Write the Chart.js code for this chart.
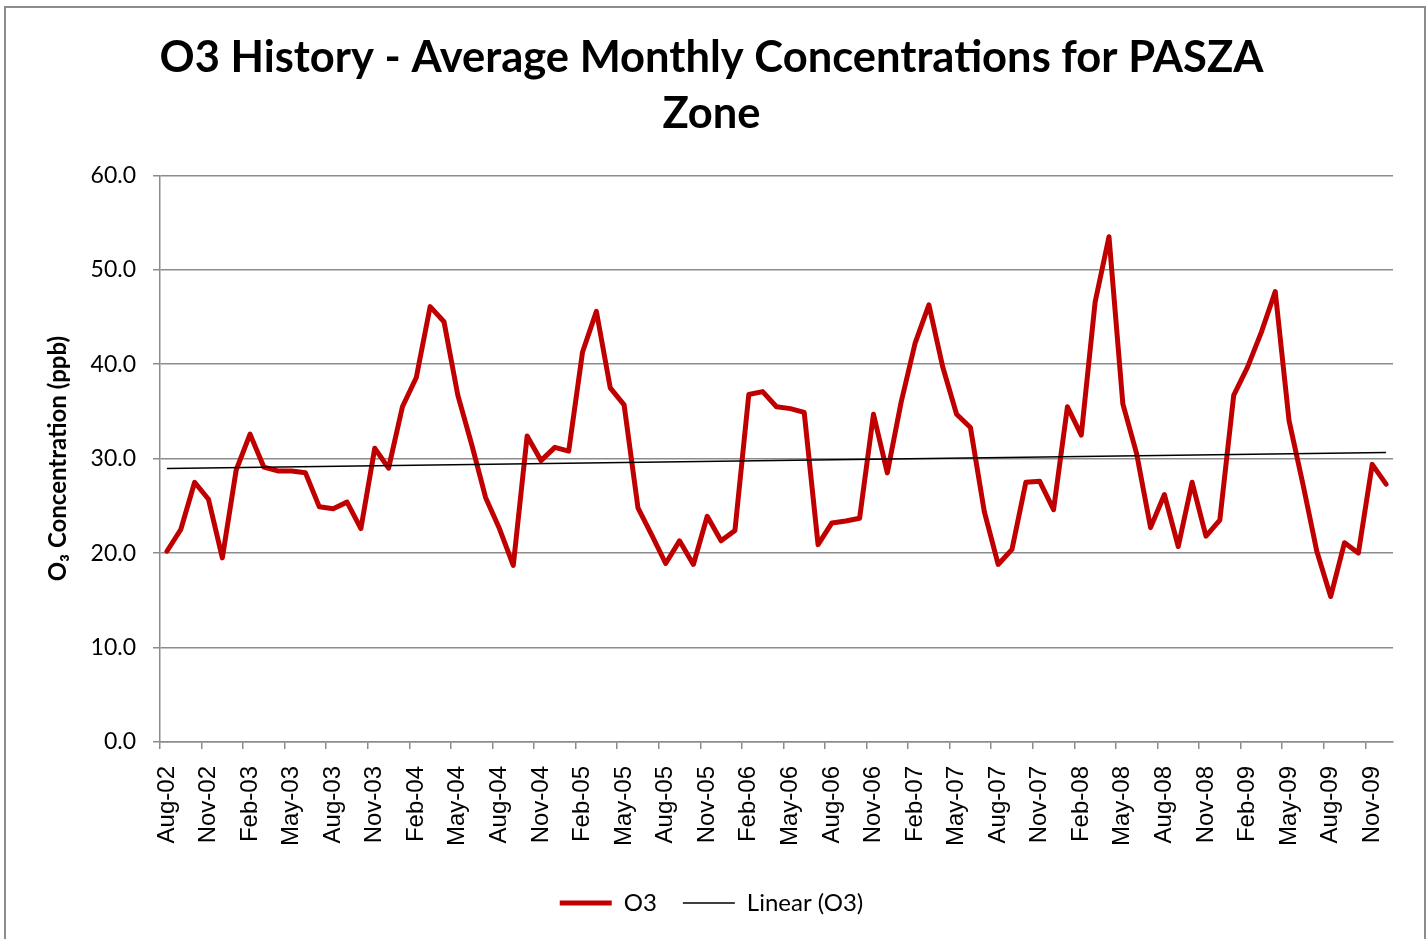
<!DOCTYPE html>
<html>
<head>
<meta charset="utf-8">
<script src="https://cdn.jsdelivr.net/npm/chart.js@4.4.1/dist/chart.umd.min.js"></script>
<style>
  html, body { margin: 0; padding: 0; background: #fff; overflow: hidden; }
  #wrap { position: absolute; left: 0; top: 0; width: 1427px; height: 939px; }
  #frame { position: absolute; left: 4px; top: 6px; width: 1418px; height: 960px; border: 2px solid #8c8c8c; pointer-events: none; }
</style>
</head>
<body>
<div id="wrap"><canvas id="c" width="1427" height="939"></canvas></div>
<div id="frame"></div>
<script>
const months = [
  'Aug-02','Sep-02','Oct-02','Nov-02','Dec-02',
  'Jan-03','Feb-03','Mar-03','Apr-03','May-03','Jun-03','Jul-03','Aug-03','Sep-03','Oct-03','Nov-03','Dec-03',
  'Jan-04','Feb-04','Mar-04','Apr-04','May-04','Jun-04','Jul-04','Aug-04','Sep-04','Oct-04','Nov-04','Dec-04',
  'Jan-05','Feb-05','Mar-05','Apr-05','May-05','Jun-05','Jul-05','Aug-05','Sep-05','Oct-05','Nov-05','Dec-05',
  'Jan-06','Feb-06','Mar-06','Apr-06','May-06','Jun-06','Jul-06','Aug-06','Sep-06','Oct-06','Nov-06','Dec-06',
  'Jan-07','Feb-07','Mar-07','Apr-07','May-07','Jun-07','Jul-07','Aug-07','Sep-07','Oct-07','Nov-07','Dec-07',
  'Jan-08','Feb-08','Mar-08','Apr-08','May-08','Jun-08','Jul-08','Aug-08','Sep-08','Oct-08','Nov-08','Dec-08',
  'Jan-09','Feb-09','Mar-09','Apr-09','May-09','Jun-09','Jul-09','Aug-09','Sep-09','Oct-09','Nov-09','Dec-09'
];
const o3Values = [
  20.2, 22.5, 27.5, 25.7, 19.5,
  28.8, 32.6, 29.1, 28.7, 28.7, 28.5, 24.9, 24.7, 25.4, 22.6, 31.1, 29.0,
  35.5, 38.6, 46.1, 44.5, 36.7, 31.5, 25.9, 22.6, 18.7, 32.4, 29.8, 31.2,
  30.8, 41.3, 45.6, 37.5, 35.7, 24.8, 21.9, 18.9, 21.3, 18.8, 23.9, 21.3,
  22.4, 36.8, 37.1, 35.5, 35.3, 34.9, 20.9, 23.2, 23.4, 23.7, 34.7, 28.5,
  36.0, 42.2, 46.3, 39.7, 34.7, 33.3, 24.4, 18.8, 20.4, 27.5, 27.6, 24.6,
  35.5, 32.5, 46.6, 53.5, 35.8, 30.5, 22.7, 26.2, 20.7, 27.5, 21.8, 23.5,
  36.7, 39.7, 43.4, 47.7, 34.0, 27.3, 20.2, 15.4, 21.1, 20.0, 29.4, 27.3
];
// Linear trendline (O3) end values
const trendMonths = ['Aug-02', 'Dec-09'];
const trendValues = [28.95, 30.65];
const yTicks = [0, 10, 20, 30, 40, 50, 60];

const titleLines = ['O3 History - Average Monthly Concentrations for PASZA', 'Zone'];
const yTitle = 'O\u2083 Concentration (ppb)';

const gray = '#8c8c8c';
const trendData = trendMonths.map((m, i) => ({ x: m, y: trendValues[i] }));

new Chart(document.getElementById('c'), {
  type: 'line',
  data: {
    labels: months,
    datasets: [
      {
        label: 'O3',
        data: o3Values,
        borderColor: '#c00000',
        backgroundColor: '#c00000',
        borderWidth: 5,
        pointRadius: 0,
        tension: 0,
        borderJoinStyle: 'round',
        borderCapStyle: 'round',
        order: 2
      },
      {
        label: 'Linear (O3)',
        data: trendData,
        borderColor: '#000000',
        backgroundColor: '#000000',
        borderWidth: 1.5,
        pointRadius: 0,
        tension: 0,
        spanGaps: true,
        order: 1
      }
    ]
  },
  options: {
    responsive: false,
    animation: false,
    events: [],
    layout: { padding: { left: 30, right: 34, top: 11, bottom: 14 } },
    plugins: {
      title: {
        display: true,
        text: titleLines,
        color: '#000',
        font: { family: 'Lato', size: 43.5, weight: 'bold', lineHeight: 1.28 },
        padding: { top: 19, bottom: 34 }
      },
      legend: {
        display: true,
        position: 'bottom',
        labels: {
          usePointStyle: true,
          pointStyle: 'line',
          pointStyleWidth: 52,
          color: '#000',
          font: { family: 'Lato', size: 24 },
          padding: 26,
          sort: (a, b) => a.datasetIndex - b.datasetIndex
        }
      },
      tooltip: { enabled: false }
    },
    scales: {
      x: {
        type: 'category',
        offset: true,
        afterFit: (scale) => { scale.height = 123; scale.paddingLeft = 0; scale.paddingRight = 0; },
        grid: {
          display: true,
          drawOnChartArea: false,
          drawTicks: true,
          tickLength: 7,
          offset: true,
          lineWidth: 1.5,
          tickColor: (ctx) => (ctx.index !== undefined && ctx.index % 3 === 0) ? gray : 'rgba(0,0,0,0)',
          color: gray
        },
        border: { display: true, color: gray, width: 1.5 },
        ticks: {
          autoSkip: false,
          maxRotation: 90,
          minRotation: 90,
          padding: 17,
          color: '#000',
          font: { family: 'Liberation Sans', size: 24 },
          callback: function (value, index) { return index % 3 === 0 ? months[index] : ''; }
        }
      },
      y: {
        min: 0,
        max: 60,
        afterFit: (scale) => { scale.width = 130; },
        afterBuildTicks: (scale) => { scale.ticks = yTicks.map(v => ({ value: v })); },
        grid: {
          color: gray,
          lineWidth: 1.5,
          tickLength: 7,
          drawTicks: true
        },
        border: { display: true, color: gray, width: 1.5 },
        ticks: {
          padding: 17,
          color: '#000',
          font: { family: 'Lato', size: 23 },
          callback: (v) => Number(v).toFixed(1)
        },
        title: {
          display: true,
          text: yTitle,
          color: '#000',
          font: { family: 'Lato', size: 24, weight: 'bold' },
          padding: { top: 14, bottom: 14 }
        }
      }
    }
  }
});
</script>
</body>
</html>
